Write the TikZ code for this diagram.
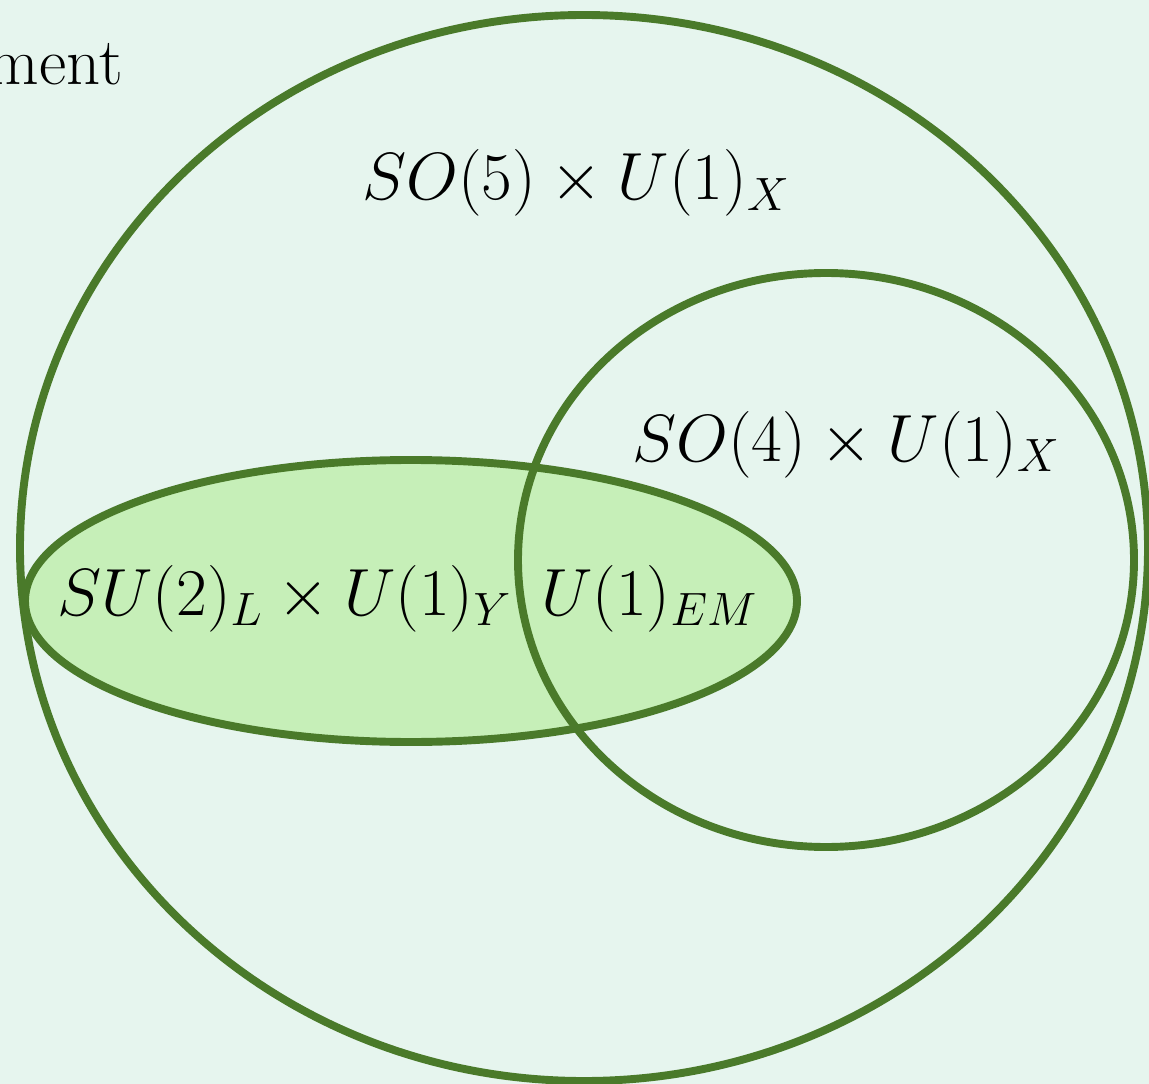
\documentclass[tikz,border=0pt]{standalone}
\usepackage{fix-cm}
\definecolor{bgmint}{HTML}{E6F5EE}
\definecolor{setline}{HTML}{4A7A2A}
\definecolor{setfill}{HTML}{C6EFB8}
\begin{document}
\begin{tikzpicture}[x=.02cm,y=-.02cm,
 every node/.style={font=\fontsize{38}{46}\selectfont,inner sep=0pt},
 setedge/.style={draw=setline,line width=4.5pt}]
 \fill[bgmint] (0,0) rectangle (1149,1084);
 \useasboundingbox (0,0) rectangle (1149,1084);
 % sets
 \fill[setfill] (411,601) ellipse [x radius=386,y radius=141];
 \draw[setedge] (584,548) ellipse [x radius=564,y radius=533];
 \draw[setedge] (826,560) ellipse [x radius=308,y radius=287];
 \draw[setedge] (411,601) ellipse [x radius=386,y radius=141];
 % labels
 \node[anchor=base east] (cut) at (123,85) {ment};
 \node[anchor=base west] (so5) at (362,200) {$SO(5)\times U(1)_X$};
 \node[anchor=base west] (so4) at (632,461) {$SO(4)\times U(1)_X$};
 \node[anchor=base west] (sm) at (57,615) {$SU(2)_L\times U(1)_Y$};
 \node[anchor=base west] (em) at (541,615) {$U(1)_{EM}$};
\end{tikzpicture}
\end{document}
